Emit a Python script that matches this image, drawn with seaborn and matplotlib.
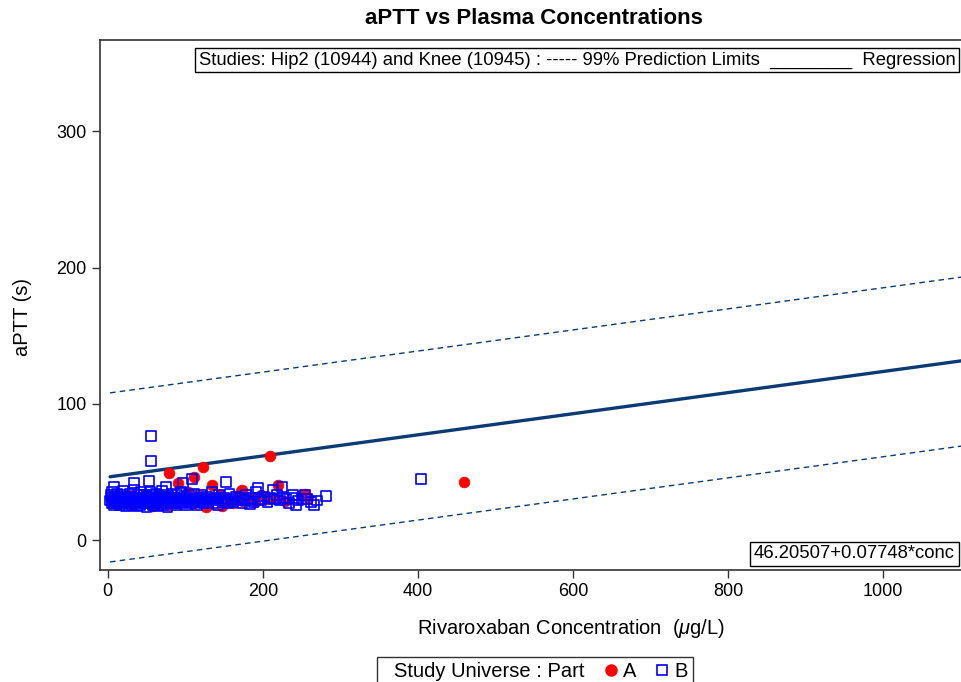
import matplotlib
matplotlib.use("Agg")
import matplotlib.pyplot as plt
import seaborn as sns
import pandas as pd
from matplotlib.lines import Line2D

# ---------------- data ----------------
part_a_conc = [5, 9, 13, 18, 22, 27, 31, 36, 40, 44, 48, 52, 57, 61, 65, 69, 73, 78, 82, 86,
               91, 95, 99, 103, 107, 113, 118, 123, 129, 133, 139, 145, 150, 156, 162, 168,
               175, 182, 190, 198, 205, 215, 228, 250, 258,
               79, 123, 209, 111, 90, 135, 219, 173, 172, 254, 148, 127, 460]
part_a_aptt = [30, 28, 32, 27, 30, 33, 26, 29, 31, 27, 34, 29, 25, 31, 28, 33, 30, 26, 32, 29,
               27, 31, 28, 35, 30, 27, 32, 29, 26, 31, 30, 33, 28, 30, 27, 32,
               29, 31, 28, 33, 30, 31, 29, 33, 31,
               49.4, 53.8, 61.6, 46, 42, 40.3, 40.3, 36.7, 36, 33.7, 25, 24, 42.5]

part_b_conc = [3, 4, 5, 5, 6, 7, 8, 8, 9, 10, 11, 12, 13, 14, 15, 16, 17, 18, 19, 20,
               21, 22, 23, 24, 25, 26, 27, 28, 29, 30, 31, 32, 33, 34, 35, 36, 37, 38, 39, 40,
               41, 42, 43, 44, 45, 46, 47, 48, 49, 50, 51, 52, 53, 54, 55, 56, 57, 58, 59, 60,
               61, 62, 63, 64, 65, 66, 67, 68, 69, 70, 71, 72, 73, 74, 75, 76, 77, 78, 79, 80,
               82, 83, 85, 86, 88, 89, 90, 92, 93, 95, 96, 98, 99, 101, 102, 104, 105, 107, 108, 110,
               112, 114, 115, 117, 119, 120, 122, 124, 126, 128, 130, 132, 134, 136, 138, 140, 142, 144, 146, 148,
               150, 152, 155, 157, 160, 162, 165, 168, 170, 173, 176, 178, 181, 185, 188, 191, 195, 198, 202, 206,
               210, 214, 218, 222, 226, 230, 234, 240, 245, 250, 262, 270,
               56, 56, 53, 8, 109, 97, 75, 34, 152, 213, 194, 225, 282, 254, 257, 266, 243, 183, 239, 404]
part_b_aptt = [29, 33, 27, 31, 35, 28, 30, 26, 32, 29, 27, 34, 30, 28, 31, 26, 33, 29, 27, 36,
               30, 28, 32, 25, 29, 31, 27, 34, 30, 28, 26, 32, 29, 37, 27, 31, 29, 25, 33, 28,
               30, 26, 35, 29, 31, 27, 33, 28, 30, 24, 32, 29, 27, 35, 30, 28, 33, 26, 31, 29,
               27, 34, 30, 25, 32, 28, 31, 29, 27, 36, 30, 26, 33, 29, 31, 27, 24, 32, 29, 30,
               27, 34, 28, 31, 26, 33, 29, 30, 27, 35, 28, 32, 29, 26, 31, 29, 33, 27, 30, 28,
               34, 29, 26, 31, 28, 33, 30, 27, 29, 32, 28, 30, 35, 27, 31, 29, 26, 33, 30, 28,
               31, 29, 27, 34, 30, 28, 32, 29, 31, 27, 30, 33, 29, 31, 28, 35, 30, 29, 32, 28,
               31, 30, 33, 29, 31, 30, 27, 31, 29, 30, 28, 29,
               76.3, 58.2, 43.3, 39, 44.5, 42, 39, 42, 42.8, 36.7, 38, 39, 32.3, 33, 30, 25.7, 25.7, 26.4, 33, 44.5]

line_x = [3, 1205]
regression_y = [46.44, 139.57]
upper_limit_y = [108.0, 201.0]
lower_limit_y = [-16.1, 77.0]

x_ticks = [0, 200, 400, 600, 800, 1000]
y_ticks = [0, 100, 200, 300]

title = "aPTT vs Plasma Concentrations"
top_note = "Studies: Hip2 (10944) and Knee (10945) : ----- 99% Prediction Limits  ________  Regression"
eq_note = "46.20507+0.07748*conc"

# ---------------- style ----------------
sns.set_theme(style="ticks")
plt.rcParams["font.family"] = ["Liberation Sans", "DejaVu Sans"]
plt.rcParams["mathtext.fontset"] = "custom"
plt.rcParams["mathtext.it"] = "Liberation Sans:italic"
plt.rcParams["mathtext.rm"] = "Liberation Sans"
plt.rcParams["text.color"] = "black"
plt.rcParams["axes.labelcolor"] = "black"

navy = "#0B3A75"

dfa = pd.DataFrame({"conc": part_a_conc, "aptt": part_a_aptt})
dfb = pd.DataFrame({"conc": part_b_conc, "aptt": part_b_aptt})
dfl = pd.DataFrame({"conc": line_x, "reg": regression_y, "up": upper_limit_y, "lo": lower_limit_y})

fig = plt.figure(figsize=(9.61, 6.82), dpi=100)
ax = fig.add_axes([100 / 961, 1 - 570 / 682, 942 / 961, 530 / 682])

sns.lineplot(data=dfl, x="conc", y="up", ax=ax, color=navy, lw=1.0, dashes=False, linestyle=(0, (4, 3)))
sns.lineplot(data=dfl, x="conc", y="lo", ax=ax, color=navy, lw=1.0, dashes=False, linestyle=(0, (4, 3)))
sns.lineplot(data=dfl, x="conc", y="reg", ax=ax, color=navy, lw=2.4)

sns.scatterplot(data=dfa, x="conc", y="aptt", ax=ax, marker="o", s=60, color="#FF0000",
                edgecolor="#FF0000", linewidth=0.5, zorder=3)
sns.scatterplot(data=dfb, x="conc", y="aptt", ax=ax, marker="s", s=50, facecolors="none",
                edgecolor="#0000FF", linewidth=1.2, zorder=4)

ax.set_xlim(-10, 1205)
ax.set_ylim(-22, 367)
ax.set_xticks(x_ticks)
ax.set_yticks(y_ticks)
ax.tick_params(direction="out", length=6, width=1, colors="#333333", labelcolor="black", labelsize=13)
for sp in ax.spines.values():
    sp.set_color("#333333")
    sp.set_linewidth(1.2)

ax.set_xlabel(r"Rivaroxaban Concentration  ($\mu$g/L)", fontsize=14.5, labelpad=12)
ax.set_ylabel("aPTT (s)", fontsize=14.5)
ax.yaxis.set_label_coords(-0.072, 0.477)

fig.text(534 / 961, 1 - 18 / 682, title, ha="center", va="center", fontsize=16, fontweight="bold")

fig.text(199 / 961, 1 - 60 / 682, top_note, ha="left", va="center", fontsize=13.3,
         bbox=dict(boxstyle="square,pad=0.2", fc="white", ec="black", lw=1))
fig.text(754 / 961, 1 - 554 / 682, eq_note, ha="left", va="center", fontsize=13.3,
         bbox=dict(boxstyle="square,pad=0.2", fc="white", ec="black", lw=1))

handles = [Line2D([], [], linestyle="none"),
           Line2D([], [], linestyle="none", marker="o", markersize=8, color="#FF0000"),
           Line2D([], [], linestyle="none", marker="s", markersize=7, markerfacecolor="none",
                  markeredgecolor="#0000FF", markeredgewidth=1.2)]
labels = ["Study Universe : Part", "A", "B"]
leg = fig.legend(handles, labels, loc="upper center", bbox_to_anchor=(535 / 961, 1 - 657 / 682),
                 ncol=3, frameon=True, fancybox=False, edgecolor="black", fontsize=14.5,
                 handlelength=0.0, handletextpad=0.6, columnspacing=1.3, borderpad=0.25,
                 borderaxespad=0)
leg.get_frame().set_linewidth(1)

fig.savefig("out.png", dpi=100)
